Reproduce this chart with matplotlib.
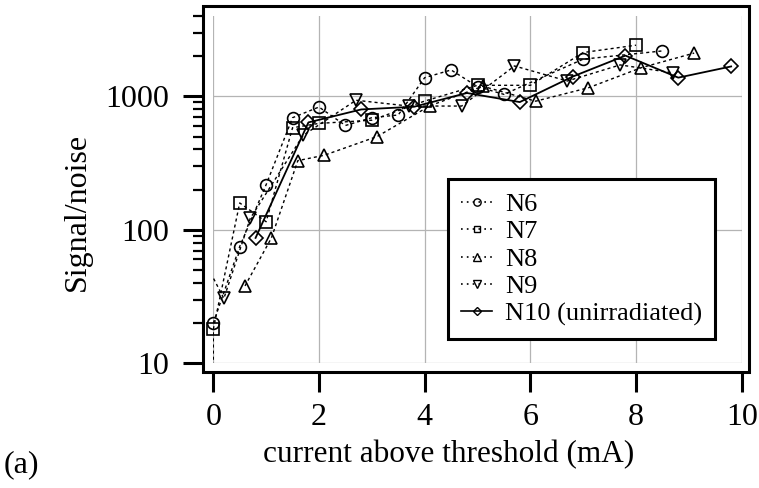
import numpy as np
import matplotlib
matplotlib.use('Agg')
import matplotlib.pyplot as plt
from matplotlib.lines import Line2D
from matplotlib.patches import Rectangle

plt.rcParams['font.family'] = ['Liberation Serif', 'DejaVu Serif']

# data
n6_x = [0, 0.5, 1, 1.5, 2, 2.5, 3, 3.5, 4, 4.5, 5, 5.5, 7, 8.5]
n6_y = [20, 75, 218, 692, 832, 605, 692, 725, 1380, 1577, 1183, 1035, 1900, 2190]
n7_x = [0, 0, 0.5, 1, 1.5, 2, 3, 4, 5, 6, 7, 8]
n7_y = [3, 18, 159, 115, 582, 627, 663, 922, 1210, 1210, 2130, 2417]
n8_x = [0.6, 1.1, 1.6, 2.1, 3.1, 4.1, 5.1, 6.1, 7.1, 8.1, 9.1]
n8_y = [38, 87, 330, 362, 500, 850, 1190, 920, 1160, 1640, 2110]
n9_x = [-0.1, 0.2, 0.7, 1.7, 2.7, 3.7, 4.7, 5.7, 6.7, 7.7, 8.7]
n9_y = [52, 30.6, 122, 510, 935, 846, 846, 1690, 1303, 1720, 1500]
n10_x = [0.8, 1.8, 2.8, 3.8, 4.8, 5.8, 6.8, 7.8, 8.8, 9.8]
n10_y = [87, 638, 798, 836, 1060, 906, 1406, 2020, 1381, 1675]

names = ['N6', 'N7', 'N8', 'N9', 'N10 (unirradiated)']
markers = ['o', 's', '^', 'v', 'D']
msizes = [8.5, 8, 9, 9, 7]
xs = [n6_x, n7_x, n8_x, n9_x, n10_x]
ys = [n6_y, n7_y, n8_y, n9_y, n10_y]

xmin, xmax, ymin, ymax = 0, 10, 10, 4000

W, H = 759, 488
fig = plt.figure(figsize=(W / 100, H / 100), dpi=100)
# data area in pixels: left 213, right 742, top 16, bottom 363
ax = fig.add_axes([213.3 / W, 1 - 363.3 / H, 528.4 / W, 347.3 / H])
ax.set_xlim(xmin, xmax)
ax.set_yscale('log')
ax.set_ylim(ymin, ymax)

ax.grid(True, which='major', color='#b4b4b4', lw=0.9)
ax.set_axisbelow(True)

handles = []
for x, y, m, ms, nm in zip(xs, ys, markers, msizes, names):
    ls = '-' if nm.startswith('N10') else (0, (2.2, 2.2))
    lw = 1.3 if nm.startswith('N10') else 1.0
    ax.plot(x, y, color='black', ls=ls, lw=lw)
    # markers are drawn whole when the point lies inside the plot area
    x = np.array(x)
    y = np.array(y)
    ok = (x >= xmin) & (x <= xmax) & (y >= ymin) & (y <= ymax)
    ax.plot(x[ok], y[ok], ls='none', marker=m, ms=ms, mfc='none', mec='black',
            mew=1.2, clip_on=False)
    hls = '-' if nm.startswith('N10') else (0, (1, 2.5))
    handles.append(Line2D([], [], color='black', ls=hls, lw=1.2, marker=m,
                          ms=ms * 0.62, mfc='none', mec='black', mew=1.0))

for s in ['top', 'right', 'left', 'bottom']:
    ax.spines[s].set_visible(False)
ax.spines['left'].set_position(('outward', 7.4))
ax.spines['bottom'].set_position(('outward', 6.3))

# outer frame
fig.add_artist(Rectangle((203 / W, 1 - 372 / H), 546 / W, 366 / H,
                         transform=fig.transFigure, fill=False, lw=2.2,
                         ec='black'))

ax.set_xticks([0, 2, 4, 6, 8, 10])
ax.set_yticks([10, 100, 1000])
ax.set_yticklabels(['10', '100', '1000'])
ax.tick_params(axis='both', which='major', direction='out', length=14.5,
               width=2.2, labelsize=23, color='black')
ax.tick_params(axis='x', pad=8)
ax.tick_params(axis='y', pad=10)
ax.tick_params(axis='y', which='minor', direction='out', length=7.2, width=1.6)
ax.yaxis.set_minor_formatter(matplotlib.ticker.NullFormatter())

fig.text(77 / W, 1 - 212 / H, 'Signal/noise', rotation=90, fontsize=23,
         ha='center', va='center')
fig.text(449 / W, 1 - 455 / H, 'current above threshold (mA)', fontsize=22.5,
         ha='center', va='center')
fig.text(4 / W, 1 - 465 / H, '(a)', fontsize=23, ha='left', va='center')

leg = ax.legend(handles, names, loc='upper left',
                bbox_to_anchor=(448.3 / W, 1 - 179.3 / H),
                bbox_transform=fig.transFigure, borderaxespad=0,
                fontsize=19, frameon=True, fancybox=False, framealpha=1,
                handlelength=1.15, handletextpad=0.5, labelspacing=0.15,
                borderpad=0.5)
leg.get_frame().set_edgecolor('black')
leg.get_frame().set_linewidth(2.2)

fig.savefig('out.png', dpi=100)
